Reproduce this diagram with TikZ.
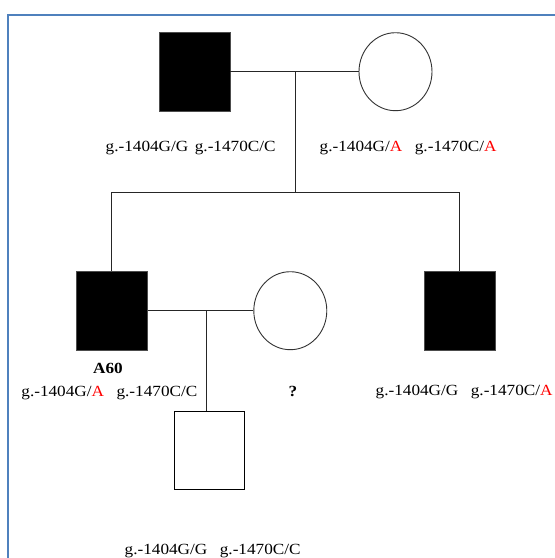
\documentclass[tikz,border=0pt]{standalone}
\usepackage{fontspec}
\setmainfont{Liberation Serif}[FakeStretch=1.11]
\usetikzlibrary{shapes.geometric}
\definecolor{frameblue}{RGB}{79,129,189}
\definecolor{allelered}{RGB}{255,0,0}
\begin{document}
\begin{tikzpicture}[x=1pt,y=-1pt,
  affmale/.style={draw=black!70,fill=black,line width=0.7pt,minimum width=71pt,minimum height=79pt,inner sep=0pt},
  unmale/.style={draw=black,fill=white,line width=1.3pt,minimum width=70pt,minimum height=78pt,inner sep=0pt},
  female/.style={draw=black!80,fill=white,ellipse,line width=0.9pt,minimum width=73pt,minimum height=78pt,inner sep=0pt},
  link/.style={draw=black!85,line width=1pt},
  geno/.style={anchor=base west,inner sep=0pt,font=\fontsize{15.5}{18}\selectfont},
  idlab/.style={anchor=base,inner sep=0pt,font=\fontsize{15.5}{18}\selectfont\bfseries}]
\useasboundingbox (0,0) rectangle (555,558);
\fill[white] (0,0) rectangle (555,558);
% frame
\draw[frameblue,line width=1.6pt] (7.8,558) -- (7.8,14.9) -- (555,14.9);
% generation I
\node[affmale] (father) at (194.6,71.7) {};
\node[female] (mother) at (395.5,71.7) {};
\coordinate (m1) at (295,71.7);
\coordinate (s1) at (295,192.7);
% generation II
\node[affmale] (son1) at (111.8,310.7) {};
\node[female] (wife) at (290.3,310.7) {};
\node[affmale] (son2) at (459.5,310.7) {};
\coordinate (m2) at (206.7,310.7);
% generation III
\node[unmale] (child) at (209.5,450.5) {};
% connectors
\draw[link] (father) -- (mother);
\draw[link] (m1) -- (s1);
\draw[link] (son1.north) |- (s1) -| (son2.north);
\draw[link] (son1) -- (wife);
\draw[link] (m2) -- (m2 |- child.north);
% labels
\node[geno] (gfather) at (105.5,151.7) {g.-1404G/G\hspace{6.5pt}g.-1470C/C};
\node[geno] (gmother) at (319.5,151.7) {g.-1404G/\textcolor{allelered}{A}\hspace{12.5pt}g.-1470C/\textcolor{allelered}{A}};
\node[idlab] (id1) at (108,373) {A60};
\node[geno] (gson1) at (21.2,396.7) {g.-1404G/\textcolor{allelered}{A}\hspace{12.5pt}g.-1470C/C};
\node[idlab] (gwife) at (293,396.7) {?};
\node[geno] (gson2) at (375.5,395.5) {g.-1404G/G\hspace{12.5pt}g.-1470C/\textcolor{allelered}{A}};
\node[geno] (gchild) at (124.5,554.5) {g.-1404G/G\hspace{12.5pt}g.-1470C/C};
\end{tikzpicture}
\end{document}
